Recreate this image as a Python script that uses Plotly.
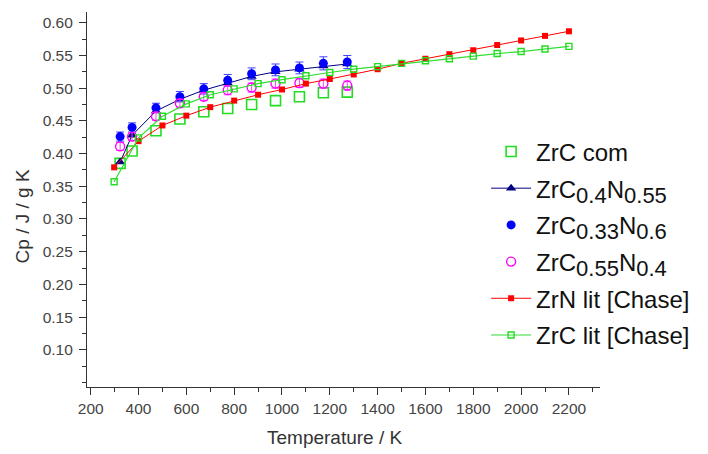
import plotly.graph_objects as go

# ---------------- data ----------------
T_exp = [323, 373, 473, 573, 673, 773, 873, 973, 1073, 1173, 1273]
zrc_com = [0.385, 0.404, 0.435, 0.453, 0.464, 0.469, 0.475, 0.481, 0.487, 0.493, 0.494]
zrc04n055 = [0.387, 0.428, 0.465, 0.483, 0.497, 0.508, 0.518, 0.525, 0.529, 0.534, 0.537]
zrc033n06 = [0.426, 0.440, 0.470, 0.487, 0.499, 0.512, 0.522, 0.528, 0.531, 0.538, 0.540]
zrc033n06_err = [0.007, 0.007, 0.007, 0.008, 0.008, 0.009, 0.009, 0.009, 0.009, 0.010, 0.010]
zrc055n04 = [0.411, 0.426, 0.457, 0.477, 0.487, 0.497, 0.501, 0.507, 0.508, 0.507, 0.504]
zrc055n04_err = [0.006, 0.006, 0.006, 0.006, 0.006, 0.007, 0.007, 0.007, 0.007, 0.007, 0.007]

T_lit = [298, 400, 500, 600, 700, 800, 900, 1000, 1100, 1200, 1300, 1400, 1500,
         1600, 1700, 1800, 1900, 2000, 2100, 2200]
zrn_lit = [0.379, 0.419, 0.443, 0.458, 0.471, 0.481, 0.490, 0.498, 0.507, 0.514,
           0.521, 0.529, 0.538, 0.545, 0.552, 0.558, 0.566, 0.573, 0.580, 0.587]
zrc_lit = [0.357, 0.424, 0.457, 0.476, 0.490, 0.499, 0.507, 0.513, 0.519, 0.524,
           0.529, 0.533, 0.538, 0.542, 0.545, 0.549, 0.553, 0.556, 0.560, 0.564]

x_ticks = list(range(200, 2201, 200))
y_ticks = [0.10, 0.15, 0.20, 0.25, 0.30, 0.35, 0.40, 0.45, 0.50, 0.55, 0.60]

FONT = 'Liberation Sans, Arial, sans-serif'
SUBF = 'font-size:22px'
def chem(c, n):
    return ('ZrC<sub><span style="%s">%s</span></sub>N<sub><span style="%s">%s</span></sub>'
            % (SUBF, c, SUBF, n))

fig = go.Figure()

fig.add_trace(go.Scatter(
    x=T_exp, y=zrc_com, mode='markers', name='ZrC com', legendgroup='a',
    marker=dict(symbol='square-open', size=10, color='#22dd22', line=dict(width=1.6))))

fig.add_trace(go.Scatter(
    x=T_exp, y=zrc04n055, mode='lines+markers', name=chem('0.4', '0.55'), legendgroup='b',
    line=dict(color='#000080', width=1),
    marker=dict(symbol='triangle-up', size=9, color='#000080')))

fig.add_trace(go.Scatter(
    x=T_exp, y=zrc033n06, mode='markers', name=chem('0.33', '0.6'), legendgroup='c',
    error_y=dict(type='data', array=zrc033n06_err, color='#4040ff', thickness=1, width=4),
    marker=dict(symbol='circle', size=9, color='#0000ff')))

fig.add_trace(go.Scatter(
    x=T_exp, y=zrc055n04, mode='markers', name=chem('0.55', '0.4'), legendgroup='d',
    error_y=dict(type='data', array=zrc055n04_err, color='#ff40ff', thickness=1, width=4),
    marker=dict(symbol='circle-open', size=9, color='#ff00ff', line=dict(width=1.4))))

fig.add_trace(go.Scatter(
    x=T_lit, y=zrn_lit, mode='lines+markers', name='ZrN lit [Chase]', legendgroup='e',
    line=dict(color='#ff0000', width=1),
    marker=dict(symbol='square', size=6, color='#ff0000')))

fig.add_trace(go.Scatter(
    x=T_lit, y=zrc_lit, mode='lines+markers', name='ZrC lit [Chase]', legendgroup='f',
    line=dict(color='#33dd33', width=1.2),
    marker=dict(symbol='square-open', size=6, color='#22dd22', line=dict(width=1.4))))

axis_common = dict(
    showline=True, linecolor='#333333', linewidth=1.2, mirror=False,
    showgrid=False, zeroline=False,
    ticks='outside', ticklen=7, tickcolor='#333333', tickwidth=1,
    tickfont=dict(family=FONT, size=15.5, color='#444444'),
)

fig.update_xaxes(
    range=[184.5, 2330], tickvals=x_ticks, ticktext=[str(v) for v in x_ticks],
    minor=dict(dtick=100, tick0=0, ticks='outside', ticklen=4, tickcolor='#333333'),
    **axis_common)

fig.update_yaxes(
    range=[0.0431, 0.6165], tickvals=y_ticks, ticktext=['%.2f' % v for v in y_ticks],
    ticklabelstandoff=3,
    minor=dict(dtick=0.025, tick0=0, ticks='outside', ticklen=4, tickcolor='#333333'),
    **axis_common)

fig.update_layout(
    width=708, height=454,
    margin=dict(l=87, r=108, t=12, b=67),
    paper_bgcolor='white', plot_bgcolor='white',
    font=dict(family=FONT, color='#000000'),
    legend=dict(x=0.778, y=0.687, xanchor='left', yanchor='top',
                font=dict(family=FONT, size=24, color='#111111'),
                itemwidth=40, tracegroupgap=2.5, bgcolor='rgba(0,0,0,0)'),
    showlegend=True,
    annotations=[
        dict(text='Cp / J / g K', xref='paper', yref='paper', x=-0.1267, y=0.455,
             xanchor='center', yanchor='middle', textangle=-90, showarrow=False,
             font=dict(family=FONT, size=19, color='#333333')),
        dict(text='Temperature / K', xref='paper', yref='paper', x=0.4834, y=-0.134,
             xanchor='center', yanchor='middle', showarrow=False,
             font=dict(family=FONT, size=19, color='#333333')),
    ],
)

fig.write_html('out.html')
